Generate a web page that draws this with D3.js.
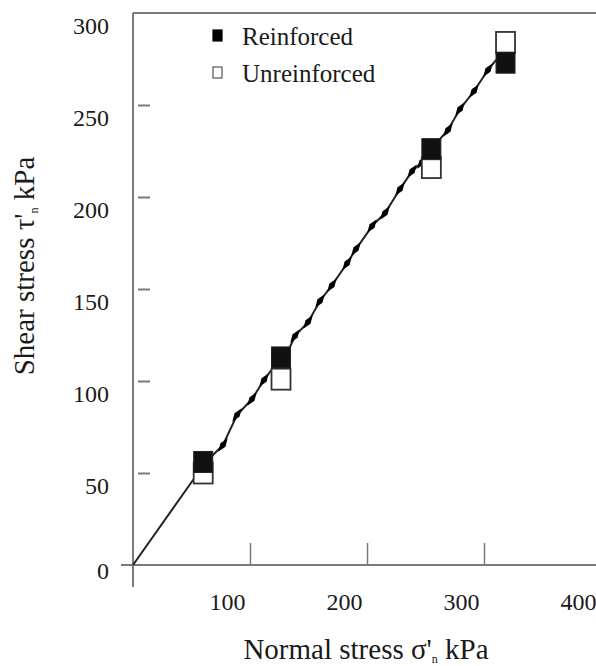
<!DOCTYPE html>
<html>
<head>
<meta charset="utf-8">
<script src="https://cdn.jsdelivr.net/npm/d3@7"></script>
<style>
  body { margin: 0; background: #fff; }
  svg { display: block; }
  text { font-family: 'Liberation Serif', 'Times New Roman', serif; }
</style>
</head>
<body>
<svg id="chart" width="596" height="666"></svg>
<script>
// shear box test results
var testSigma = [60, 126.5, 255, 318.4];
var reinforcedTau = [56, 112.8, 226, 273];
var unreinforcedTau = [50, 101, 216, 284];

// stress path (line) vertices
var pathSigma = [0, 51.3, 68.4, 76.9, 88.9, 101.7, 112, 117, 134.2, 138.5, 149.6, 159.8, 170, 183, 190.6, 204.3, 215.4, 228.2, 238.5, 247, 263, 269.2, 279.5, 291.5, 303.4, 310.3];
var pathTau   = [0, 46.2, 59.8, 65.2, 81.5, 90.2, 100.5, 104.9, 118.5, 124.5, 132, 143.5, 152, 164, 171.7, 184.2, 191.3, 204.3, 214, 219, 232, 236.4, 247.8, 257.6, 269, 274.5];

// small marks along the path
var markSigma = [76.9, 88.9, 101.7, 112, 138.5, 149.6, 159.8, 170, 183, 190.6, 204.3, 215.4, 228.2, 238.5, 247, 269.2, 279.5, 291.5, 303.4];
var markTau   = [65.2, 81.5, 90.2, 100.5, 124.5, 132, 143.5, 152, 164, 171.7, 184.2, 191.3, 204.3, 214, 219, 236.4, 247.8, 257.6, 269];

var xTicks = [100, 200, 300, 400];
var yTicks = [0, 50, 100, 150, 200, 250, 300];
var legendKeys = ["Reinforced", "Unreinforced"];

var svg = d3.select("#chart"),
    font = "'Liberation Serif', 'Times New Roman', serif",
    axisCol = "#7a7a7a",
    textCol = "#1a1a1a";

var x = d3.scaleLinear().domain([0, 400]).range([133, 601]);
var y = d3.scaleLinear().domain([0, 300]).range([565, 13]);

// frame lines
svg.append("line").attr("x1", 133).attr("x2", 596).attr("y1", y(300)).attr("y2", y(300))
  .attr("stroke", axisCol).attr("stroke-width", 2);
svg.append("line").attr("x1", x(0)).attr("x2", x(0)).attr("y1", y(300)).attr("y2", 587)
  .attr("stroke", axisCol).attr("stroke-width", 2);
svg.append("line").attr("x1", 121).attr("x2", 596).attr("y1", y(0)).attr("y2", y(0))
  .attr("stroke", axisCol).attr("stroke-width", 2);

// x axis: upward ticks, labels sit left of their ticks
var gx = svg.append("g")
  .attr("transform", "translate(0," + y(0) + ")")
  .call(d3.axisBottom(x).tickValues(xTicks).tickSize(-22).tickPadding(28).tickFormat(d3.format("d")))
  .attr("font-family", font)
  .attr("font-size", 24);
gx.select(".domain").remove();
gx.selectAll(".tick line").attr("stroke", axisCol).attr("stroke-width", 1.5);
gx.selectAll(".tick text")
  .attr("x", -23)
  .attr("fill", textCol);

// y axis labels (offset below tick values like the original)
var gy = svg.append("g")
  .attr("transform", "translate(" + x(0) + ",0)")
  .call(d3.axisLeft(y).tickValues(yTicks).tickSize(0).tickPadding(24).tickFormat(d3.format("d")))
  .attr("font-family", font)
  .attr("font-size", 24);
gy.select(".domain").remove();
gy.selectAll(".tick text")
  .attr("y", function(d) { return d === 0 ? 6 : 13; })
  .attr("fill", textCol);

// y inner ticks
var gyt = svg.append("g")
  .attr("transform", "translate(" + (x(0) + 5) + ",0)")
  .call(d3.axisRight(y).tickValues(yTicks.slice(1, -1)).tickSize(12).tickFormat(""));
gyt.select(".domain").remove();
gyt.selectAll(".tick line").attr("stroke", axisCol).attr("stroke-width", 2);

// stress path
var pathData = pathSigma.map(function(s, i) { return [s, pathTau[i]]; });
var line = d3.line().x(function(d) { return x(d[0]); }).y(function(d) { return y(d[1]); });
svg.append("path")
  .datum(pathData)
  .attr("d", line)
  .attr("fill", "none")
  .attr("stroke", "#222")
  .attr("stroke-width", 2);

var markData = markSigma.map(function(s, i) { return [s, markTau[i]]; });
svg.selectAll(".mark")
  .data(markData)
  .enter().append("path")
    .attr("class", "mark")
    .attr("d", d3.symbol().type(d3.symbolDiamond).size(40))
    .attr("transform", function(d) { return "translate(" + x(d[0]) + "," + y(d[1]) + ") rotate(35) scale(0.9,1.4)"; })
    .attr("fill", "#000");

// squares: open first, filled on top
var sqW = 19, sqH = 21;
svg.selectAll(".unr")
  .data(testSigma)
  .enter().append("rect")
    .attr("class", "unr")
    .attr("x", function(d) { return x(d) - sqW / 2; })
    .attr("y", function(d, i) { return y(unreinforcedTau[i]) - sqH / 2; })
    .attr("width", sqW).attr("height", sqH)
    .attr("fill", "#fff").attr("stroke", "#333").attr("stroke-width", 1.8);

svg.selectAll(".rein")
  .data(testSigma)
  .enter().append("rect")
    .attr("class", "rein")
    .attr("x", function(d) { return x(d) - sqW / 2; })
    .attr("y", function(d, i) { return y(reinforcedTau[i]) - sqH / 2; })
    .attr("width", sqW).attr("height", sqH)
    .attr("fill", "#111").attr("stroke", "#222").attr("stroke-width", 1);

// legend
var legend = svg.append("g")
  .selectAll("g")
  .data(legendKeys)
  .enter().append("g")
    .attr("transform", function(d, i) { return "translate(213," + (30 + i * 37) + ")"; });
legend.append("rect")
  .attr("width", 9).attr("height", 11)
  .attr("fill", function(d, i) { return i === 0 ? "#000" : "#fff"; })
  .attr("stroke", function(d, i) { return i === 0 ? "#000" : "#555"; })
  .attr("stroke-width", 1.2);
legend.append("text")
  .attr("x", 29).attr("y", 15)
  .attr("fill", textCol)
  .style("font-family", font).style("font-size", "25px")
  .text(function(d) { return d; });

// axis titles
var xt = svg.append("text")
  .attr("x", 366).attr("y", 659)
  .attr("text-anchor", "middle")
  .attr("fill", textCol)
  .style("font-family", font).style("font-size", "29px");
xt.append("tspan").text("Normal stress σ'");
xt.append("tspan").attr("dy", 4).style("font-size", "12px").text("n");
xt.append("tspan").attr("dy", -4).text(" kPa");

var yt = svg.append("text")
  .attr("transform", "translate(34,266) rotate(-90)")
  .attr("text-anchor", "middle")
  .attr("fill", textCol)
  .style("font-family", font).style("font-size", "29px");
yt.append("tspan").text("Shear stress τ'");
yt.append("tspan").attr("dy", 4).style("font-size", "12px").text("n");
yt.append("tspan").attr("dy", -4).text(" kPa");
</script>
</body>
</html>
